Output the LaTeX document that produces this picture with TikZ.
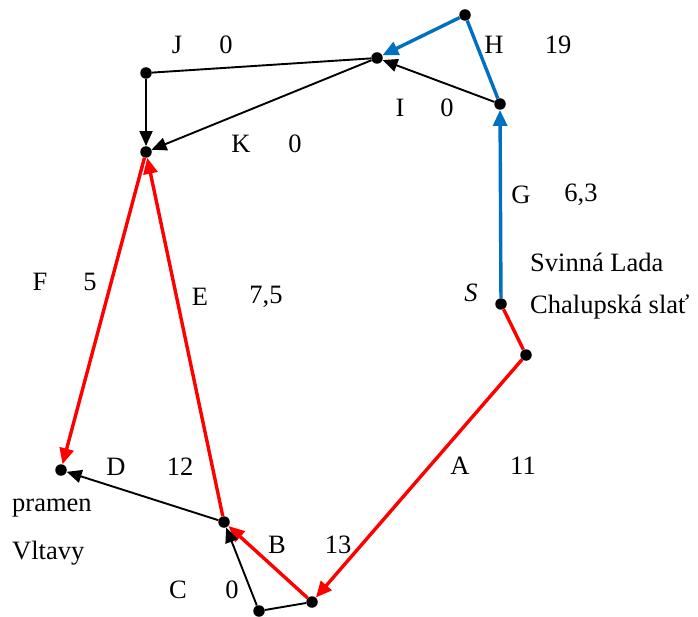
\documentclass[tikz,border=0pt]{standalone}
\usepackage{fontspec}
\setmainfont{Liberation Serif}
\usetikzlibrary{arrows.meta}
\definecolor{myblue}{RGB}{0,112,192}
\definecolor{myred}{RGB}{255,0,0}
\begin{document}
\begin{tikzpicture}[x=1pt,y=-1pt,
  dot/.style={circle,fill=black,inner sep=0pt,minimum size=11.5pt},
  lbl/.style={inner sep=0pt,font=\fontsize{26.5}{30}\selectfont},
  blk/.style={draw=black,line width=1.9pt},
  redl/.style={draw=myred,line width=3.4pt},
  bluel/.style={draw=myblue,line width=3.4pt},
  tipb/.style={-{Triangle[length=15pt,width=13pt]}},
  tipc/.style={-{Triangle[length=16pt,width=14pt]}}]
\useasboundingbox (0,0) rectangle (698,617);
% points
\node[dot] (H) at (465,15) {};
\node[dot] (T) at (377,58) {};
\node[dot] (J) at (146,73) {};
\node[dot] (K) at (146,152) {};
\node[dot] (I) at (500,104) {};
\node[dot] (S) at (501,304) {};
\node[dot] (R) at (526,355) {};
\node[dot] (Q) at (312,602) {};
\node[dot] (C) at (259,611) {};
\node[dot] (B) at (224,522) {};
\node[dot] (D) at (61,470) {};
% red
\draw[redl] (S) -- (R);
\draw[redl,tipc] (R) -- (Q);
\draw[redl,tipc] (Q) -- (B);
\draw[redl,tipc] (B) -- (K);
\draw[redl,tipc] (K) -- (D);
% black
\draw[blk] (Q) -- (C);
\draw[blk,tipb] (C) -- (B);
\draw[blk,tipb] (B) -- (D);
\draw[blk,tipb] (I) -- (T);
\draw[blk] (T) -- (J);
\draw[blk,tipb] (J) -- (K);
\draw[blk,tipb] (T) -- (K);
% blue
\draw[bluel,tipc] (S) -- (I);
\draw[bluel] (I) -- (H);
\draw[bluel,tipc] (H) -- (T);
% labels
\node[lbl] (lJ) at (177,45) {J};
\node[lbl] (nJ) at (226,45) {0};
\node[lbl] (lH) at (494,45) {H};
\node[lbl] (nH) at (558,45) {19};
\node[lbl] (lI) at (400,108) {I};
\node[lbl] (nI) at (447,108) {0};
\node[lbl] (lK) at (241,144) {K};
\node[lbl] (nK) at (295,144) {0};
\node[lbl] (lG) at (521,195) {G};
\node[lbl] (nG) at (581,195) {6,3};
\node[lbl,anchor=west] (sv) at (530,262) {Svinná Lada};
\node[lbl,anchor=west] (ch) at (530,307) {Chalupská slať};
\node[lbl] (sS) at (471,293) {\itshape S};
\node[lbl] (lF) at (40,282) {F};
\node[lbl] (nF) at (90,282) {5};
\node[lbl] (lE) at (200,297) {E};
\node[lbl] (nE) at (266,297) {7,5};
\node[lbl] (lA) at (460,466) {A};
\node[lbl] (nA) at (523,466) {11};
\node[lbl] (lD) at (116,467) {D};
\node[lbl] (nD) at (180,467) {12};
\node[lbl] (lB) at (277,545) {B};
\node[lbl] (nB) at (338,545) {13};
\node[lbl] (lC) at (178,590) {C};
\node[lbl] (nC) at (232,590) {0};
\node[lbl,anchor=west] (pr) at (12,508) {pramen};
\node[lbl,anchor=west] (vl) at (12,553) {Vltavy};
\end{tikzpicture}
\end{document}
